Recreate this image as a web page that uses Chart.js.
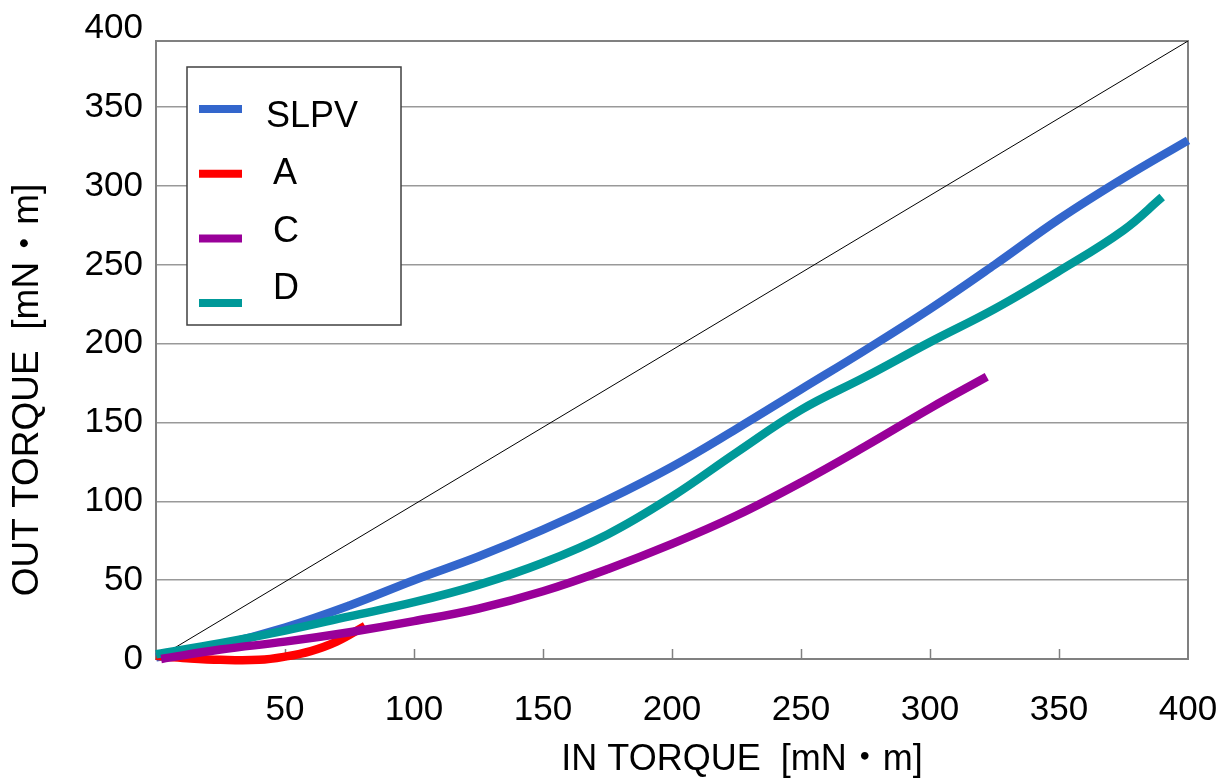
<!DOCTYPE html>
<html>
<head>
<meta charset="utf-8">
<title>IN TORQUE / OUT TORQUE</title>
<script src="https://cdn.jsdelivr.net/npm/chart.js@4.4.1/dist/chart.umd.min.js"></script>
<style>
    html, body { margin: 0; padding: 0; background: #fff; }
    #wrap { width: 1216px; height: 784px; }
</style>
</head>
<body>
<div id="wrap"><canvas id="torqueChart" width="1216" height="784"></canvas></div>
<script>
const seriesNames = ['SLPV', 'A', 'C', 'D'];
const seriesColors = ['#3366cc', '#ff0000', '#990099', '#009999'];

// IN torque (x) / OUT torque (y), mN·m
const slpvIn  = [0, 25, 50, 75, 100, 125, 150, 175, 200, 225, 250, 275, 300, 325, 350, 375, 400];
const slpvOut = [1, 9, 20, 34, 50, 65, 82, 101, 122, 146, 171, 196, 222, 250, 279, 305, 329];

const aIn  = [0, 12, 25, 40, 50, 60, 70, 81];
const aOut = [2, 0.5, -0.5, -0.5, 1.5, 5, 11, 21];

const cIn  = [2, 25, 50, 75, 100, 125, 150, 175, 200, 225, 250, 275, 300, 322];
const cOut = [0, 6, 11, 17, 24, 32, 43, 57, 73, 91, 112, 135, 159, 179];

const dIn  = [0, 25, 50, 75, 100, 125, 150, 175, 200, 225, 250, 275, 300, 325, 350, 375, 390];
const dOut = [3, 10, 18, 27, 36, 47, 61, 79, 103, 131, 158, 179, 201, 222, 246, 272, 293];

// thin reference line, corner to corner of the plot frame
const refIn  = [0, 400];
const refOut = [0, 392];

const xTicks = [50, 100, 150, 200, 250, 300, 350, 400];
const yTicks = [0, 50, 100, 150, 200, 250, 300, 350, 400];
const xMax = 400;
const yMax = 392;

const xTitle = 'IN TORQUE  [mN・m]';
const yTitle = 'OUT TORQUE  [mN・m]';

const FONT = "'Liberation Sans', Arial, 'Noto Sans CJK JP', sans-serif";

function toPoints(xs, ys) {
    return xs.map((x, i) => ({ x: x, y: ys[i] }));
}

// frame, inward x tick marks, axis titles
const framePlugin = {
    id: 'frame',
    beforeDatasetsDraw(chart) {
        const { ctx, chartArea } = chart;
        const xs = chart.scales.x;
        ctx.save();
        ctx.strokeStyle = '#808080';
        ctx.lineWidth = 1.5;
        xTicks.forEach(v => {
            if (v >= xMax) return;
            const px = Math.round(xs.getPixelForValue(v)) + 0.5;
            ctx.beginPath();
            ctx.moveTo(px, chartArea.bottom);
            ctx.lineTo(px, chartArea.bottom - 10);
            ctx.stroke();
        });
        ctx.lineWidth = 2;
        ctx.strokeRect(chartArea.left, chartArea.top, chartArea.right - chartArea.left, chartArea.bottom - chartArea.top);
        ctx.restore();
    },
    afterDraw(chart) {
        const { ctx, chartArea } = chart;
        ctx.save();
        ctx.fillStyle = '#000';
        ctx.textAlign = 'center';
        ctx.textBaseline = 'middle';
        ctx.font = '36px ' + FONT;
        ctx.fillText(xTitle, (chartArea.left + chartArea.right) / 2 + 70, 760);
        ctx.translate(28, 390);
        ctx.rotate(-Math.PI / 2);
        ctx.font = '37px ' + FONT;
        ctx.fillText(yTitle, 0, 0);
        ctx.restore();
    }
};

// boxed legend inside the plot, upper left
const boxLegendPlugin = {
    id: 'boxLegend',
    afterDatasetsDraw(chart) {
        const { ctx, chartArea } = chart;
        const left = chartArea.left + 31;
        const top = chartArea.top + 26;
        ctx.save();
        ctx.fillStyle = '#fff';
        ctx.fillRect(left, top, 214, 258);
        ctx.strokeStyle = '#404040';
        ctx.lineWidth = 1.5;
        ctx.strokeRect(left, top, 214, 258);
        ctx.font = '36px ' + FONT;
        ctx.textBaseline = 'middle';
        ctx.textAlign = 'left';
        seriesNames.forEach((name, i) => {
            const ly = top + 42 + i * 64.7;
            ctx.strokeStyle = seriesColors[i];
            ctx.lineWidth = 8;
            ctx.beginPath();
            ctx.moveTo(left + 12, ly);
            ctx.lineTo(left + 55, ly);
            ctx.stroke();
            ctx.fillStyle = '#000';
            ctx.fillText(name, left + (name.length > 1 ? 79 : 86), top + 50 + i * 57.3);
        });
        ctx.restore();
    }
};

const lineStyle = (color, order) => ({
    borderColor: color,
    backgroundColor: color,
    borderWidth: 8.5,
    pointRadius: 0,
    tension: 0.4,
    fill: false,
    clip: 6,
    order: order
});

const ctx = document.getElementById('torqueChart').getContext('2d');

new Chart(ctx, {
    type: 'line',
    data: {
        datasets: [
            { label: seriesNames[0], data: toPoints(slpvIn, slpvOut), ...lineStyle(seriesColors[0], 4) },
            { label: seriesNames[1], data: toPoints(aIn, aOut), ...lineStyle(seriesColors[1], 3) },
            { label: seriesNames[2], data: toPoints(cIn, cOut), ...lineStyle(seriesColors[2], 1) },
            { label: seriesNames[3], data: toPoints(dIn, dOut), ...lineStyle(seriesColors[3], 2) },
            {
                label: 'ref',
                data: toPoints(refIn, refOut),
                borderColor: '#000',
                borderWidth: 1,
                pointRadius: 0,
                tension: 0,
                order: 5
            }
        ]
    },
    options: {
        responsive: false,
        animation: false,
        events: [],
        layout: { padding: { left: 0, right: 28, top: 41, bottom: 0 } },
        plugins: {
            legend: { display: false },
            tooltip: { enabled: false }
        },
        scales: {
            x: {
                type: 'linear',
                min: 0,
                max: xMax,
                afterBuildTicks(scale) {
                    scale.ticks = xTicks.map(v => ({ value: v }));
                },
                afterFit(scale) {
                    scale.height = 125;
                    scale.paddingLeft = 0;
                    scale.paddingRight = 0;
                },
                grid: { display: false, drawTicks: false },
                border: { display: false },
                ticks: {
                    color: '#000',
                    padding: 30,
                    maxRotation: 0,
                    autoSkip: false,
                    font: { family: FONT, size: 35 }
                }
            },
            y: {
                type: 'linear',
                min: 0,
                max: yMax,
                afterBuildTicks(scale) {
                    scale.ticks = yTicks.map(v => ({ value: v }));
                },
                afterFit(scale) {
                    scale.width = 156;
                },
                grid: {
                    drawTicks: false,
                    color: c => (c.tick && c.tick.value > 0 && c.tick.value < yMax) ? '#999999' : 'rgba(0,0,0,0)',
                    lineWidth: 1.5
                },
                border: { display: false },
                ticks: {
                    color: '#000',
                    padding: 13,
                    autoSkip: false,
                    font: { family: FONT, size: 35 }
                }
            }
        }
    },
    plugins: [framePlugin, boxLegendPlugin]
});
</script>
</body>
</html>
